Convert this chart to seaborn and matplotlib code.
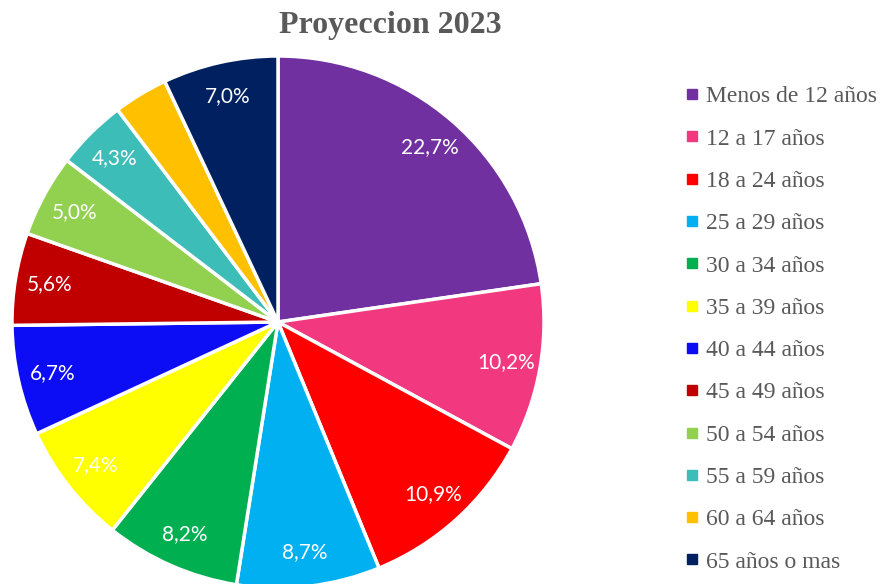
import matplotlib
matplotlib.use("Agg")
import matplotlib.pyplot as plt
import seaborn as sns
from matplotlib.lines import Line2D

# Datos
categorias = ["Menos de 12 años", "12 a 17 años", "18 a 24 años", "25 a 29 años",
              "30 a 34 años", "35 a 39 años", "40 a 44 años", "45 a 49 años",
              "50 a 54 años", "55 a 59 años", "60 a 64 años", "65 años o mas"]
valores = [22.7, 10.2, 10.9, 8.7, 8.2, 7.4, 6.7, 5.6, 5.0, 4.3, 3.3, 7.0]
colores = ["#7030A0", "#F2387F", "#FF0000", "#00B0F0", "#00B050", "#FFFF00",
           "#0D0DF5", "#C00000", "#92D050", "#3DBDB8", "#FFC000", "#002060"]
sin_etiqueta = ["60 a 64 años"]

sns.set_theme(style="white")
plt.rcParams['font.family'] = ['Liberation Serif', 'DejaVu Serif']

fig = plt.figure(figsize=(8.82, 5.84), dpi=100)
# pie center at (278, 322) px, radius 266 px
ax = fig.add_axes([12 / 882, -4 / 584, 532 / 882, 532 / 584])

wedges, textos, pcts = ax.pie(
    valores, colors=colores, startangle=90, counterclock=False,
    autopct=lambda p: f"{p:.1f}%".replace(".", ","), pctdistance=0.87,
    wedgeprops=dict(edgecolor="white", linewidth=2.5),
    textprops=dict(color="white", fontsize=15, family=["Lato", "DejaVu Sans"]),
    radius=1.0)
for w in wedges:
    w.set_clip_on(False)
for cat, t in zip(categorias, pcts):
    if cat in sin_etiqueta:
        t.set_visible(False)
ax.set_xlim(-1, 1)
ax.set_ylim(-1, 1)
ax.set_aspect("equal")
ax.axis("off")

fig.text(390 / 882, 1 - 25 / 584, "Proyeccion 2023", ha="center", va="center",
         fontsize=23, fontweight="bold", color="#595959")

handles = [Line2D([0], [0], marker="s", linestyle="none", markersize=6.5,
                  markerfacecolor=c, markeredgecolor=c) for c in colores]
fig.legend(handles, categorias, loc="upper left", bbox_to_anchor=(674 / 882, 1 - 74 / 584),
           frameon=False, fontsize=17, labelspacing=0.88, handlelength=0.5,
           handletextpad=0.35, labelcolor="#595959", borderpad=0)

fig.savefig("out.png", dpi=100)
